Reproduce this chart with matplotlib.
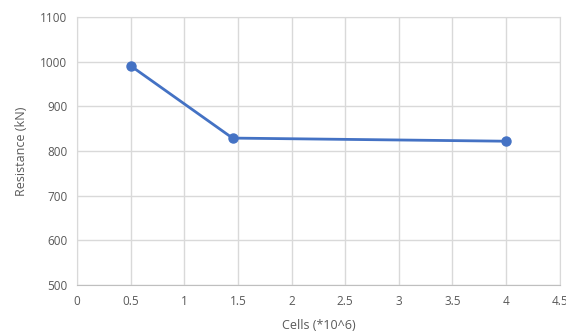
import matplotlib.pyplot as plt

cells = [0.5, 1.45, 4.0]
resistance = [991, 829, 822]

x_ticks = [0, 0.5, 1, 1.5, 2, 2.5, 3, 3.5, 4, 4.5]
x_tick_labels = ['0', '0.5', '1', '1.5', '2', '2.5', '3', '3.5', '4', '4.5']
y_ticks = [500, 600, 700, 800, 900, 1000, 1100]

plt.rcParams['font.family'] = ['Open Sans', 'DejaVu Sans']
grey = '#595959'
grid_col = '#d9d9d9'

fig = plt.figure(figsize=(5.66, 3.36), dpi=100)
ax = fig.add_axes([0.136, 0.152, 0.853, 0.797])

ax.plot(cells, resistance, color='#4472C4', linewidth=2, marker='o',
        markersize=6.5, zorder=3)

ax.set_xlim(0, 4.5)
ax.set_ylim(500, 1100)
ax.set_xticks(x_ticks)
ax.set_xticklabels(x_tick_labels)
ax.set_yticks(y_ticks)
ax.tick_params(length=0, labelsize=8.5, labelcolor=grey, pad=7)
ax.grid(True, color=grid_col, linewidth=1)
ax.set_axisbelow(True)
for s in ax.spines.values():
    s.set_color(grid_col)
ax.spines['bottom'].set_color('#bfbfbf')

ax.set_xlabel('Cells (*10^6)', fontsize=9, color=grey, labelpad=8)
ax.set_ylabel('Resistance (kN)', fontsize=9, color=grey, labelpad=9)

fig.savefig('out.png', dpi=100)
